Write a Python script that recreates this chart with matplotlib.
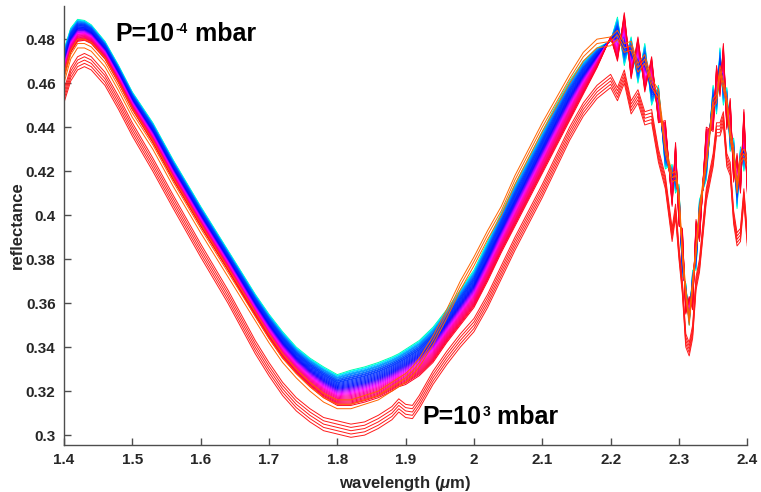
import numpy as np
import matplotlib.pyplot as plt

plt.rcParams['font.family'] = ['Liberation Sans', 'DejaVu Sans']
plt.rcParams['mathtext.fontset'] = 'custom'
plt.rcParams['mathtext.rm'] = 'Liberation Sans:bold'
plt.rcParams['mathtext.it'] = 'Liberation Sans:italic:bold'
plt.rcParams['mathtext.bf'] = 'Liberation Sans:bold'

# wavelength grid (um)
wl = [1.400, 1.410, 1.420, 1.430, 1.440, 1.460, 1.480, 1.500, 1.530, 1.560,
      1.600, 1.640, 1.680, 1.700, 1.720, 1.740, 1.760, 1.780, 1.800, 1.820,
      1.840, 1.860, 1.880, 1.890, 1.900, 1.910, 1.920, 1.940, 1.960, 1.980,
      2.000, 2.020, 2.040, 2.060, 2.080, 2.100, 2.120, 2.140, 2.160, 2.180,
      2.200, 2.210, 2.220, 2.230, 2.240, 2.250, 2.260, 2.270, 2.280, 2.290,
      2.295, 2.300, 2.305, 2.310, 2.315, 2.320, 2.325, 2.330, 2.340, 2.350,
      2.355, 2.360, 2.365, 2.370, 2.375, 2.380, 2.385, 2.390, 2.395, 2.400]

# upper spectrum of the main bundle (lowest pressure)
refl_top = [0.475, 0.485, 0.489, 0.4885, 0.4865, 0.479, 0.468, 0.456, 0.442, 0.425,
            0.404, 0.384, 0.364, 0.355, 0.347, 0.340, 0.335, 0.331, 0.3275, 0.3295,
            0.331, 0.333, 0.3355, 0.337, 0.339, 0.341, 0.343, 0.349, 0.357, 0.366,
            0.375, 0.388, 0.401, 0.414, 0.426, 0.438, 0.450, 0.461, 0.470, 0.476,
            0.479, 0.490, 0.468, 0.481, 0.460, 0.478, 0.450, 0.459, 0.421, 0.423,
            0.410, 0.414, 0.372, 0.369, 0.350, 0.375, 0.375, 0.407, 0.416, 0.459,
            0.446, 0.476, 0.450, 0.458, 0.429, 0.435, 0.403, 0.431, 0.420, 0.429]

# lower spectrum of the main bundle
refl_bot = [0.463, 0.474, 0.479, 0.4795, 0.478, 0.471, 0.460, 0.448, 0.433, 0.416,
            0.395, 0.375, 0.354, 0.344, 0.335, 0.328, 0.322, 0.317, 0.3135, 0.3135,
            0.315, 0.317, 0.320, 0.322, 0.323, 0.325, 0.327, 0.333, 0.342, 0.350,
            0.358, 0.370, 0.383, 0.395, 0.407, 0.419, 0.431, 0.443, 0.455, 0.467,
            0.481, 0.470, 0.492, 0.462, 0.481, 0.456, 0.472, 0.442, 0.443, 0.404,
            0.433, 0.395, 0.394, 0.355, 0.363, 0.357, 0.398, 0.388, 0.440, 0.438,
            0.468, 0.454, 0.478, 0.439, 0.453, 0.415, 0.428, 0.410, 0.448, 0.410]

# separated low group (highest pressure)
refl_low = [0.457, 0.467, 0.472, 0.4735, 0.472, 0.465, 0.454, 0.442, 0.426, 0.409,
            0.387, 0.366, 0.343, 0.333, 0.324, 0.317, 0.312, 0.308, 0.3065, 0.305,
            0.306, 0.309, 0.313, 0.3165, 0.314, 0.3135, 0.318, 0.329, 0.338, 0.346,
            0.353, 0.364, 0.377, 0.390, 0.402, 0.414, 0.427, 0.440, 0.451, 0.459,
            0.464, 0.458, 0.466, 0.452, 0.457, 0.447, 0.448, 0.430, 0.418, 0.394,
            0.405, 0.386, 0.370, 0.346, 0.342, 0.350, 0.372, 0.380, 0.412, 0.428,
            0.442, 0.442, 0.447, 0.428, 0.424, 0.402, 0.392, 0.394, 0.412, 0.392]

# orange spectra crossing to the top edge around 2.0-2.2 um
refl_org = [0.464, 0.475, 0.480, 0.480, 0.4785, 0.4715, 0.4605, 0.4485, 0.434, 0.417,
            0.396, 0.376, 0.356, 0.346, 0.337, 0.330, 0.324, 0.319, 0.316, 0.316,
            0.318, 0.320, 0.324, 0.326, 0.328, 0.331, 0.335, 0.345, 0.357, 0.370,
            0.381, 0.393, 0.404, 0.418, 0.430, 0.442, 0.453, 0.464, 0.474, 0.480,
            0.481, 0.484, 0.478, 0.479, 0.469, 0.473, 0.462, 0.457, 0.432, 0.419,
            0.420, 0.411, 0.384, 0.367, 0.354, 0.371, 0.386, 0.404, 0.426, 0.453,
            0.455, 0.468, 0.461, 0.454, 0.438, 0.431, 0.414, 0.428, 0.430, 0.426]

# position of each main-bundle spectrum between top (0) and bottom (1)
main_levels = [0.00, 0.03, 0.05, 0.08, 0.10, 0.12, 0.15, 0.17, 0.20, 0.22,
               0.25, 0.27, 0.30, 0.33, 0.36, 0.39, 0.42, 0.45, 0.48, 0.51,
               0.54, 0.57, 0.60, 0.63, 0.66, 0.69, 0.72, 0.75, 0.78, 0.81,
               0.84, 0.87, 0.90, 0.93, 0.96, 1.00]
low_offsets = [0.000, 0.0015, 0.003, 0.0045, 0.006]
org_offsets = [0.000, -0.002, -0.004]

wl = np.array(wl)
top = np.array(refl_top)
bot = np.array(refl_bot)

fig = plt.figure(figsize=(7.61, 4.92), dpi=100)
ax = fig.add_axes([0.084, 0.0955, 0.898, 0.892])

# hue along the bundle: green/cyan -> blue -> magenta -> red
for f in main_levels:
    hue = np.interp(f, [0.0, 0.06, 0.2, 0.45, 0.58, 0.72, 1.0],
                    [0.45, 0.55, 0.63, 0.67, 0.80, 0.90, 0.995])
    ax.plot(wl, top * (1 - f) + bot * f, color=plt.cm.hsv(hue), lw=0.7)

for d in org_offsets:
    ax.plot(wl, np.array(refl_org) + d, color=plt.cm.hsv(0.07), lw=0.7)

for d in low_offsets:
    ax.plot(wl, np.array(refl_low) - d, color='#ff1a1a', lw=0.7)

ax.set_xlim(1.4, 2.4)
ax.set_ylim(0.2955, 0.495)
ax.set_xticks([1.4, 1.5, 1.6, 1.7, 1.8, 1.9, 2.0, 2.1, 2.2, 2.3, 2.4])
ax.set_xticklabels(['1.4', '1.5', '1.6', '1.7', '1.8', '1.9', '2', '2.1', '2.2', '2.3', '2.4'])
ax.set_yticks([0.3, 0.32, 0.34, 0.36, 0.38, 0.4, 0.42, 0.44, 0.46, 0.48])
ax.set_yticklabels(['0.3', '0.32', '0.34', '0.36', '0.38', '0.4', '0.42', '0.44', '0.46', '0.48'])

for s in ['top', 'right']:
    ax.spines[s].set_visible(False)
for s in ['left', 'bottom']:
    ax.spines[s].set_color('#4d4d4d')
    ax.spines[s].set_linewidth(1.0)
ax.tick_params(direction='in', length=5, width=1.0, color='#4d4d4d',
               labelsize=11, labelcolor='#262626', pad=6)
for lab in ax.get_xticklabels() + ax.get_yticklabels():
    lab.set_fontweight('bold')

ax.set_xlabel('wavelength ($\\mu$m)', fontsize=12, fontweight='bold', color='#262626', labelpad=5)
ax.set_ylabel('reflectance', fontsize=12, fontweight='bold', color='#262626', labelpad=1)

# pressure labels: base text, small raised exponent, then unit on the same baseline
def pressure_label(x, y, exponent):
    t = ax.text(x, y, 'P=10', fontsize=18, fontweight='bold', va='bottom')
    e = ax.annotate(exponent, xy=(1, 0), xycoords=t, xytext=(0.5, 7.5),
                    textcoords='offset points', fontsize=10, fontweight='bold',
                    va='bottom')
    ax.annotate(' mbar', xy=(1, 0), xycoords=(e, t), fontsize=18,
                fontweight='bold', va='bottom')

pressure_label(1.476, 0.4786 - 0.0018, '-4')
pressure_label(1.925, 0.3045 - 0.0018, '3')

fig.savefig('out.png', dpi=100)
